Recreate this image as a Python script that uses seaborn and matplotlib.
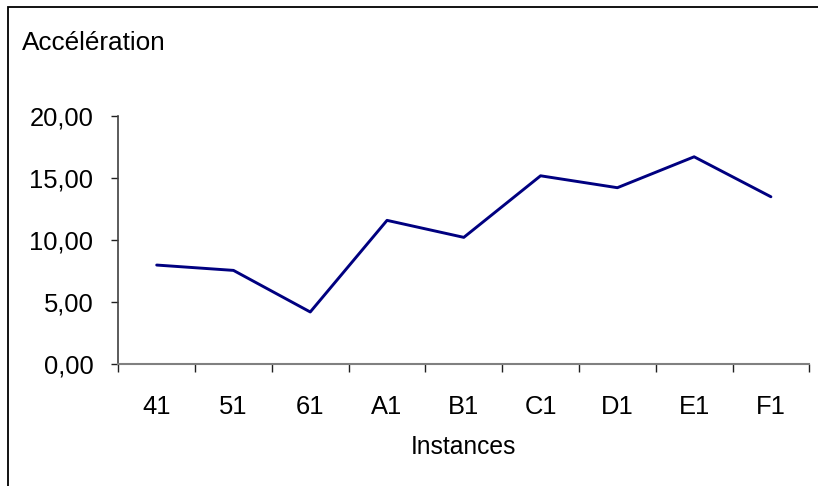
import matplotlib
matplotlib.use("Agg")
import matplotlib.pyplot as plt
from matplotlib.patches import Rectangle
from matplotlib.ticker import FixedLocator, FuncFormatter, NullFormatter
import pandas as pd
import seaborn as sns

# Data
instances = ["41", "51", "61", "A1", "B1", "C1", "D1", "E1", "F1"]
acceleration = [7.97, 7.54, 4.19, 11.57, 10.20, 15.16, 14.20, 16.69, 13.47]
y_ticks = [0, 5, 10, 15, 20]

df = pd.DataFrame({"Instances": instances, "Accélération": acceleration})
df["pos"] = range(len(instances))

sns.set_theme(style="white")
plt.rcParams["font.family"] = ["Liberation Sans", "DejaVu Sans"]

fig = plt.figure(figsize=(8.18, 4.86), dpi=100)
ax = fig.add_axes([118.3 / 818, 1 - 364 / 486, (809.3 - 118.3) / 818, (364 - 115.7) / 486])

sns.lineplot(data=df, x="pos", y="Accélération", ax=ax, color="#000080",
             linewidth=2.1, legend=False)

ax.set_xlim(-0.5, len(instances) - 0.5)
ax.set_ylim(0, 20)

# Category boundaries carry the tick marks, centres carry the labels
ax.xaxis.set_major_locator(FixedLocator([i - 0.5 for i in range(len(instances) + 1)]))
ax.xaxis.set_major_formatter(NullFormatter())
ax.xaxis.set_minor_locator(FixedLocator(list(range(len(instances)))))
ax.set_xticklabels(instances, minor=True)
ax.tick_params(axis="x", which="major", direction="out", length=6, width=1,
               color="#202020", bottom=True)
ax.tick_params(axis="x", which="minor", length=0, pad=22, labelsize=18.4,
               labelcolor="black", bottom=True)

ax.yaxis.set_major_locator(FixedLocator(y_ticks))
ax.yaxis.set_major_formatter(FuncFormatter(lambda v, p: f"{v:.2f}".replace(".", ",")))
ax.tick_params(axis="y", direction="out", length=5, width=1, color="#202020",
               left=True, pad=13, labelsize=18.4, labelcolor="black")

for side in ("top", "right"):
    ax.spines[side].set_visible(False)
ax.spines["left"].set_color("#404040")
ax.spines["left"].set_linewidth(1.2)
ax.spines["bottom"].set_color("#808080")
ax.spines["bottom"].set_linewidth(1.5)
ax.grid(False)

ax.set_xlabel("Instances", fontsize=17.7, labelpad=12, color="black")
ax.set_ylabel("")

fig.text(22 / 818, 1 - 50 / 486, "Accélération", fontsize=18.8, ha="left",
         va="baseline", color="black")

# Chart-area frame
fig.patches.append(Rectangle((8 / 818, -0.05), 1.2, (1 - 7.5 / 486) + 0.05,
                             transform=fig.transFigure, fill=False,
                             edgecolor="black", linewidth=1.3, zorder=10))

fig.savefig("out.png", dpi=100, facecolor="white")
